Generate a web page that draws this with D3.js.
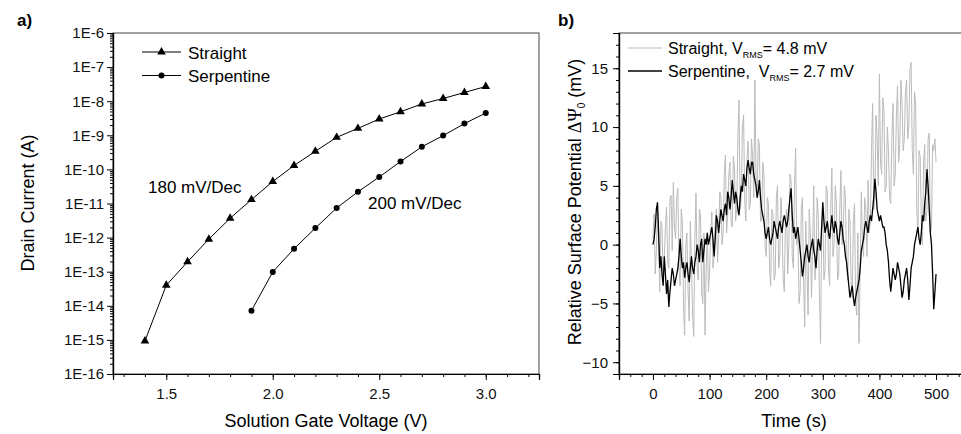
<!DOCTYPE html>
<html>
<head>
<meta charset="utf-8">
<script src="https://cdn.jsdelivr.net/npm/d3@7"></script>
<style>
  body { margin: 0; background: #fff; }
  svg { display: block; font-family: "Liberation Sans", Arial, sans-serif; }
  text { white-space: pre; }
</style>
</head>
<body>
<svg id="chart" width="961" height="434"></svg>
<script>
// ---- panel a: transfer curves ----
const voltStraight = [1.4, 1.5, 1.6, 1.7, 1.8, 1.9, 2.0, 2.1, 2.2, 2.3, 2.4, 2.5, 2.6, 2.7, 2.8, 2.9, 3.0];
const currStraight = [9.3e-16, 4.0e-14, 1.95e-13, 9.0e-13, 3.7e-12, 1.3e-11, 4.4e-11, 1.3e-10, 3.4e-10,
  8.7e-10, 1.6e-9, 3.0e-9, 4.9e-9, 8.3e-9, 1.2e-8, 1.8e-8, 2.7e-8];
const voltSerp = [1.9, 2.0, 2.1, 2.2, 2.3, 2.4, 2.5, 2.6, 2.7, 2.8, 2.9, 3.0];
const currSerp = [7.2e-15, 9.8e-14, 4.7e-13, 1.9e-12, 7.4e-12, 2.2e-11, 6.0e-11, 1.7e-10, 4.6e-10,
  9.8e-10, 2.2e-9, 4.5e-9];
const decadesA = [-16, -15, -14, -13, -12, -11, -10, -9, -8, -7, -6];
const voltTicks = [1.5, 2.0, 2.5, 3.0];

// ---- panel b: noise traces, one sample every TIME_STEP seconds (rows = 20 s) ----
const TIME_STEP = 2;
const noiseStraight = [
  0.5, 2.6, -2.5, -0.5, 2.8, 0.0, -4.0, 2.0, 1.5, -3.0,
  -1.0, 1.5, 3.2, -1.5, -2.0, 3.8, 4.2, -0.5, 5.3, 1.5,
  0.5, 4.0, 4.8, -2.0, -3.5, 3.0, 2.0, -5.5, -7.7, 0.0,
  1.0, -4.0, -6.5, 2.0, -1.5, -6.0, -7.8, 0.5, 4.4, -2.0,
  -3.0, 3.0, 2.5, -4.0, -5.0, 1.0, -7.7, -2.0, 1.0, -4.0,
  -2.5, 1.0, 2.8, -2.0, -1.0, 2.0, 3.0, -1.5, 0.5, 4.5,
  4.0, 0.0, 1.0, 6.0, 7.6, 1.0, 2.5, 6.0, 7.0, 2.0,
  1.5, 7.5, 6.5, 2.0, 3.0, 9.0, 12.3, 3.0, 4.0, 10.0,
  11.0, 4.0, 2.0, 7.0, 8.8, 3.0, 3.5, 9.0, 7.5, 4.0,
  14.0, 6.0, 4.0, 9.0, 8.5, 2.0, 2.0, 7.0, 6.0, 0.0,
  -1.0, 4.0, 3.5, -2.0, -3.5, 3.0, 2.5, -3.0, -2.5, 4.0,
  5.0, -2.0, -1.0, 4.0, 2.0, -3.0, -4.0, 2.0, 3.0, -2.5,
  0.0, 6.0, 5.5, -1.0, -2.0, 5.0, 8.2, 0.0, 1.0, -5.0,
  -4.0, 3.0, 4.0, -3.0, -7.0, 2.0, -2.0, -6.0, 3.0, 1.0,
  -4.5, 0.0, 5.0, -3.0, -1.5, 4.0, 2.5, -4.0, -8.4, 1.0,
  3.0, -3.0, -2.0, 5.0, 4.5, -2.0, -3.5, 3.0, 6.5, -1.0,
  0.0, 5.0, 3.5, -3.0, -2.5, 3.0, 6.3, 0.0, 1.0, 5.0,
  4.0, -2.0, -3.0, 3.0, 2.0, -3.0, -4.5, 2.0, 3.5, -5.0,
  -6.0, 1.0, -8.4, -2.0, 4.5, 0.0, -1.0, 4.0, 3.0, -1.0,
  5.5, 1.0, 2.0, 8.0, 12.0, 3.0, 4.0, 11.0, 9.0, 5.0,
  14.5, 7.0, 6.0, 12.5, 11.5, 4.5, 5.0, 10.0, 8.0, 4.0,
  3.5, 9.0, 12.0, 5.0, 6.0, 11.0, 13.5, 7.0, 8.5, 14.0,
  12.0, 8.0, 9.0, 13.0, 14.0, 9.0, 10.0, 15.0, 15.5, 8.0,
  6.0, 13.0, 12.0, 3.0, 1.0, 8.0, 7.5, 2.0, 0.0, 7.0,
  8.5, 2.0, 3.0, 9.0, 9.5, 1.0, 1.5, 8.5, 8.0, 9.0,
  7.0
];
const noiseSerp = [
  0.0, 0.5, 1.5, 3.0, 3.6, 1.0, -2.0, -1.0, -2.5, -3.5,
  -1.0, -2.5, -4.2, -3.0, -5.3, -4.0, -3.0, -2.0, -2.5, -3.5,
  -3.0, -2.5, -2.0, -1.0, 0.5, -1.0, -2.0, -1.5, -2.8, -2.0,
  -1.5, -2.5, -3.2, -2.0, -1.0, -2.0, -2.5, -1.5, -1.0, 0.0,
  -0.5, -1.5, 0.0, 0.5, -1.5, -0.5, 0.5, 0.0, 1.0, 0.0,
  0.5, 1.0, 1.5, 0.5, -1.0, 0.5, 2.5, 2.0, 1.0, 2.0,
  3.0, 2.5, 2.0, 3.0, 3.5, 2.5, 4.5, 4.0, 3.0, 4.0,
  5.5, 4.5, 3.5, 4.5, 4.0, 3.0, 2.5, 4.0, 5.0, 4.5,
  6.0, 5.5, 5.0, 6.5, 7.2, 6.5, 6.0, 7.0, 7.0, 6.0,
  5.5, 5.0, 4.0, 4.5, 5.5, 4.0, 3.0, 2.5, 2.0, 1.0,
  0.5, 1.0, 1.5, 0.5, 0.0, 0.5, 1.0, 2.0, 1.5, 1.0,
  0.5, 1.5, 2.0, 1.5, 1.0, 2.0, 2.5, 2.0, 1.5, 2.0,
  3.0, 4.0, 4.8, 2.5, 1.0, 1.5, 0.5, 1.0, 1.5, 0.5,
  -0.5, -1.5, -2.7, -2.0, -1.0, -0.5, 0.0, -1.0, -1.5, -0.5,
  0.0, 0.5, -0.5, -1.0, -2.0, -0.5, 0.5, 0.0, -0.5, 1.5,
  3.6, 2.0, 1.0, 1.5, 2.0, 1.0, 0.5, 1.5, 2.5, 1.5,
  1.0, 2.0, 1.5, 0.5, 0.0, 1.0, 2.0, 1.5, 0.5, 0.0,
  -1.0, -1.5, -2.5, -3.5, -4.5, -4.0, -3.5, -4.5, -5.2, -4.5,
  -4.0, -3.5, -3.0, -2.0, -0.5, 0.0, 0.5, 1.5, 2.0, 1.5,
  1.0, 2.0, 2.5, 2.0, 3.0, 4.0, 5.6, 4.5, 3.0, 2.5,
  2.0, 2.5, 2.0, 1.5, 1.5, 1.0, 0.0, -0.5, -1.5, -3.0,
  -4.0, -3.0, -2.0, -2.5, -3.0, -2.5, -1.5, -2.0, -2.5, -3.5,
  -4.5, -4.0, -3.0, -2.5, -2.0, -3.0, -4.7, -3.5, -2.0, -1.5,
  -1.0, 0.0, 0.5, 1.0, 1.5, 0.5, 0.0, 1.0, 2.5, 2.0,
  3.5, 4.5, 6.4, 5.0, 3.0, 1.0, 0.0, -2.5, -5.5, -4.0,
  -2.5
];
const mvTicks = [-10, -5, 0, 5, 10, 15];
const timeTicks = [0, 100, 200, 300, 400, 500];

const svg = d3.select("#chart");

// styles the text + lines that d3.axis makes
function styleAxis(g, size) {
  g.attr("font-family", null).attr("font-size", size);
  g.select(".domain").attr("stroke", "#000").attr("stroke-width", 1.2);
  g.selectAll(".tick line").attr("stroke", "#000");
  g.selectAll(".tick text").attr("fill", "#111");
}

function drawPanelA() {
  const x = d3.scaleLinear().domain([1.25, 3.25]).range([113, 539]);
  const y = d3.scaleLog().domain([1e-16, 1e-6]).range([374, 33]);

  // frame
  svg.append("rect")
    .attr("x", 113).attr("y", 33).attr("width", 426).attr("height", 341)
    .attr("fill", "none").attr("stroke", "#444").attr("stroke-width", 1);

  // minor log ticks (2..9 within each decade)
  const minorY = [];
  decadesA.slice(0, -1).forEach(e => { for (let k = 2; k <= 9; k++) minorY.push(k * Math.pow(10, e)); });
  svg.append("g").attr("transform", "translate(113,0)")
    .call(d3.axisLeft(y).tickValues(minorY).tickFormat("").tickSize(3))
    .call(g => styleAxis(g, 15));

  svg.append("g").attr("transform", "translate(113,0)")
    .call(d3.axisLeft(y).tickValues(decadesA.map(e => Math.pow(10, e)))
      .tickFormat(d => "1E" + Math.round(Math.log10(d))).tickSize(6).tickPadding(3))
    .call(g => styleAxis(g, 15));

  // x axis: minor every 0.1 V
  svg.append("g").attr("transform", "translate(0,374)")
    .call(d3.axisBottom(x).tickValues(d3.range(13, 33).map(v => v / 10)).tickFormat("").tickSize(3))
    .call(g => styleAxis(g, 15));
  svg.append("g").attr("transform", "translate(0,374)")
    .call(d3.axisBottom(x).tickValues(voltTicks).tickFormat(d3.format(".1f")).tickSize(6).tickPadding(8))
    .call(g => styleAxis(g, 15));

  const line = d3.line().x(d => x(d[0])).y(d => y(d[1]));
  const straight = voltStraight.map((v, i) => [v, currStraight[i]]);
  const serp = voltSerp.map((v, i) => [v, currSerp[i]]);

  svg.append("path").attr("d", line(straight)).attr("fill", "none").attr("stroke", "#000").attr("stroke-width", 1);
  svg.append("path").attr("d", line(serp)).attr("fill", "none").attr("stroke", "#000").attr("stroke-width", 1);

  const tri = d3.symbol().type(d3.symbolTriangle).size(32);
  svg.append("g").selectAll("path").data(straight).join("path")
    .attr("d", tri).attr("transform", d => `translate(${x(d[0])},${y(d[1])})`).attr("fill", "#000");
  svg.append("g").selectAll("circle").data(serp).join("circle")
    .attr("cx", d => x(d[0])).attr("cy", d => y(d[1])).attr("r", 3).attr("fill", "#000");

  // legend
  svg.append("line").attr("x1", 142).attr("x2", 181).attr("y1", 52).attr("y2", 52).attr("stroke", "#000");
  svg.append("path").attr("d", tri).attr("transform", "translate(161.5,52)").attr("fill", "#000");
  svg.append("text").attr("x", 188).attr("y", 58.5).attr("font-size", 17).text("Straight");
  svg.append("line").attr("x1", 142).attr("x2", 181).attr("y1", 75.5).attr("y2", 75.5).attr("stroke", "#000");
  svg.append("circle").attr("cx", 161.5).attr("cy", 75.5).attr("r", 3).attr("fill", "#000");
  svg.append("text").attr("x", 188).attr("y", 82).attr("font-size", 17).text("Serpentine");

  svg.append("text").attr("x", 148).attr("y", 193).attr("font-size", 17).text("180 mV/Dec");
  svg.append("text").attr("x", 368).attr("y", 209).attr("font-size", 17).text("200 mV/Dec");

  // titles
  svg.append("text").attr("x", 326).attr("y", 427).attr("text-anchor", "middle")
    .attr("font-size", 18).text("Solution Gate Voltage (V)");
  svg.append("text").attr("transform", "translate(34,203) rotate(-90)").attr("text-anchor", "middle")
    .attr("font-size", 18).text("Drain Current (A)");
  svg.append("text").attr("x", 17).attr("y", 26).attr("font-size", 17).attr("font-weight", "bold").text("a)");
}

function drawPanelB() {
  const x = d3.scaleLinear().domain([-60, 560]).range([619, 970]);
  const y = d3.scaleLinear().domain([-11, 18]).range([374, 33]);

  // frame (right side falls outside the picture)
  svg.append("rect")
    .attr("x", 619).attr("y", 33).attr("width", 351).attr("height", 341)
    .attr("fill", "none").attr("stroke", "#444").attr("stroke-width", 1);

  svg.append("g").attr("transform", "translate(619,0)")
    .call(d3.axisLeft(y).tickValues(d3.range(-11, 19)).tickFormat("").tickSize(3))
    .call(g => styleAxis(g, 15));
  svg.append("g").attr("transform", "translate(619,0)")
    .call(d3.axisLeft(y).tickValues(mvTicks).tickSize(6).tickPadding(5))
    .call(g => styleAxis(g, 15));

  svg.append("g").attr("transform", "translate(0,374)")
    .call(d3.axisBottom(x).tickValues(d3.range(-60, 561, 20)).tickFormat("").tickSize(3))
    .call(g => styleAxis(g, 15));
  svg.append("g").attr("transform", "translate(0,374)")
    .call(d3.axisBottom(x).tickValues(timeTicks).tickSize(6).tickPadding(8))
    .call(g => styleAxis(g, 15));

  const line = d3.line().x((d, i) => x(i * TIME_STEP)).y(d => y(d));
  svg.append("path").attr("d", line(noiseStraight)).attr("fill", "none")
    .attr("stroke", "#bbbbbb").attr("stroke-width", 1);
  svg.append("path").attr("d", line(noiseSerp)).attr("fill", "none")
    .attr("stroke", "#000").attr("stroke-width", 1.3);

  // legend
  svg.append("line").attr("x1", 628).attr("x2", 662).attr("y1", 48).attr("y2", 48).attr("stroke", "#bbbbbb");
  const t1 = svg.append("text").attr("x", 668).attr("y", 53.5).attr("font-size", 16);
  t1.append("tspan").text("Straight, V");
  t1.append("tspan").attr("font-size", 9).attr("dy", 4).text("RMS");
  t1.append("tspan").attr("dy", -4).text("= 4.8 mV");

  svg.append("line").attr("x1", 628).attr("x2", 662).attr("y1", 71).attr("y2", 71).attr("stroke", "#000").attr("stroke-width", 1.3);
  const t2 = svg.append("text").attr("x", 668).attr("y", 77).attr("font-size", 16);
  t2.append("tspan").text("Serpentine,  V");
  t2.append("tspan").attr("font-size", 9).attr("dy", 4).text("RMS");
  t2.append("tspan").attr("dy", -4).text("= 2.7 mV");

  // titles
  svg.append("text").attr("x", 794).attr("y", 427).attr("text-anchor", "middle")
    .attr("font-size", 18).text("Time (s)");
  const yt = svg.append("text").attr("transform", "translate(581,202) rotate(-90)")
    .attr("text-anchor", "middle").attr("font-size", 18);
  yt.append("tspan").text("Relative Surface Potential ");
  yt.append("tspan").attr("font-family", "'Liberation Serif', serif").text("ΔΨ");
  yt.append("tspan").attr("font-size", 10).attr("dy", 4).text("0");
  yt.append("tspan").attr("dy", -4).text(" (mV)");
  svg.append("text").attr("x", 558).attr("y", 26).attr("font-size", 17).attr("font-weight", "bold").text("b)");
}

drawPanelA();
drawPanelB();
</script>
</body>
</html>
